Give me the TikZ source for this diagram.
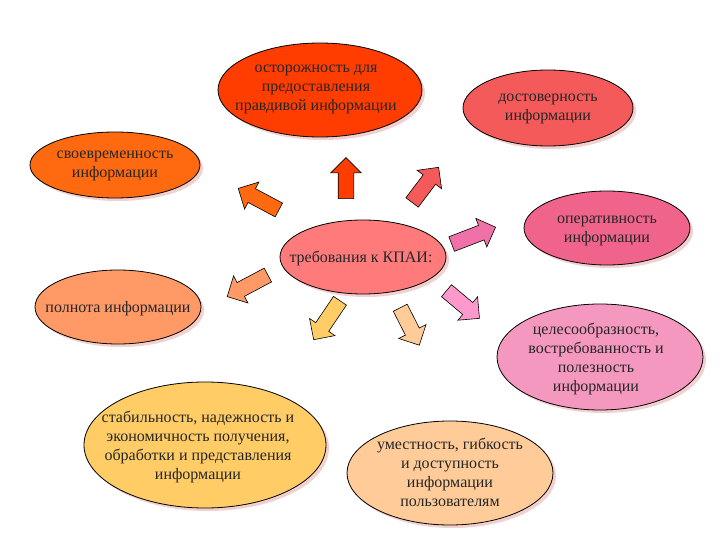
\documentclass[tikz,border=0pt]{standalone}
\usepackage{fontspec}
\setmainfont{Liberation Serif}
\usetikzlibrary{shapes.geometric,shapes.arrows,shadows}
\definecolor{cTop}{HTML}{FF3D00}
\definecolor{cDost}{HTML}{F45A5A}
\definecolor{cSvoe}{HTML}{FF6A10}
\definecolor{cCenter}{HTML}{FF7B7B}
\definecolor{cOper}{HTML}{F0648C}
\definecolor{cPoln}{HTML}{FF9966}
\definecolor{cCel}{HTML}{F598C0}
\definecolor{cStab}{HTML}{FFCC66}
\definecolor{cUme}{HTML}{FFCC99}
\definecolor{cArrR}{HTML}{F070A8}
\definecolor{cArrDR}{HTML}{FF99CC}
\definecolor{cShadow}{HTML}{E8B0B0}
\tikzset{
  bubble/.style={ellipse, draw=black, line width=0.8pt, inner sep=0pt,
    drop shadow={shadow xshift=3pt, shadow yshift=-3pt, fill=cShadow, opacity=0.6}},
  bubtext/.style={align=center, font=\fontsize{16}{19}\selectfont, text=black!85, inner sep=0pt},
  blockarrow/.style={single arrow, draw=black, line width=0.6pt,
    inner xsep=0pt, inner ysep=7.5pt, minimum width=0pt,
    single arrow head extend=7.5pt, single arrow tip angle=90,
    minimum height=#1}
}
\begin{document}
\begin{tikzpicture}[x=1pt,y=-1pt]
\useasboundingbox (0,0) rectangle (720,540);
\node[bubble, fill=cTop, minimum width=204pt, minimum height=94pt] (top) at (320,90) {};
\node[bubtext] (topT) at (316,89) {осторожность для\\предоставления\\правдивой информации};
\node[bubble, fill=cDost, minimum width=170pt, minimum height=76pt] (dost) at (548,108) {};
\node[bubtext] (dostT) at (548,109) {достоверность\\информации};
\node[bubble, fill=cSvoe, minimum width=170pt, minimum height=66pt] (svoe) at (115,165) {};
\node[bubtext] (svoeT) at (115,166) {своевременность\\информации};
\node[bubble, fill=cCenter, minimum width=166pt, minimum height=74pt] (center) at (363,257) {};
\node[bubtext] (centerT) at (361,258) {требования к КПАИ:};
\node[bubble, fill=cOper, minimum width=166pt, minimum height=74pt] (oper) at (607,228) {};
\node[bubtext] (operT) at (607,231) {оперативность\\информации};
\node[bubble, fill=cPoln, minimum width=166pt, minimum height=74pt] (poln) at (118,307) {};
\node[bubtext] (polnT) at (118,309) {полнота информации};
\node[bubble, fill=cCel, minimum width=206pt, minimum height=106pt] (cel) at (600,357) {};
\node[bubtext] (celT) at (596,359) {целесообразность,\\востребованность и\\полезность\\информации};
\node[bubble, fill=cStab, minimum width=242pt, minimum height=126pt] (stab) at (205,445) {};
\node[bubtext] (stabT) at (198,447) {стабильность, надежность и\\экономичность получения,\\обработки и представления\\информации};
\node[bubble, fill=cUme, minimum width=206pt, minimum height=104pt] (ume) at (450,473) {};
\node[bubtext] (umeT) at (450,472) {уместность, гибкость\\и доступность\\информации\\пользователям};
% block arrows
\node[blockarrow=41pt, fill=cTop, rotate=90] (a1) at (346,182) {};
\node[blockarrow=44pt, fill=cDost, rotate=53] (a2) at (423,188) {};
\node[blockarrow=46pt, fill=cSvoe, rotate=152] (a3) at (262,201) {};
\node[blockarrow=47pt, fill=cArrR, rotate=21] (a4) at (470,237) {};
\node[blockarrow=46pt, fill=cPoln, rotate=208] (a5) at (251,284) {};
\node[blockarrow=47pt, fill=cStab, rotate=236] (a6) at (329,317) {};
\node[blockarrow=42pt, fill=cUme, rotate=297] (a7) at (408,323) {};
\node[blockarrow=43pt, fill=cArrDR, rotate=320] (a8) at (460,302) {};
\end{tikzpicture}
\end{document}
